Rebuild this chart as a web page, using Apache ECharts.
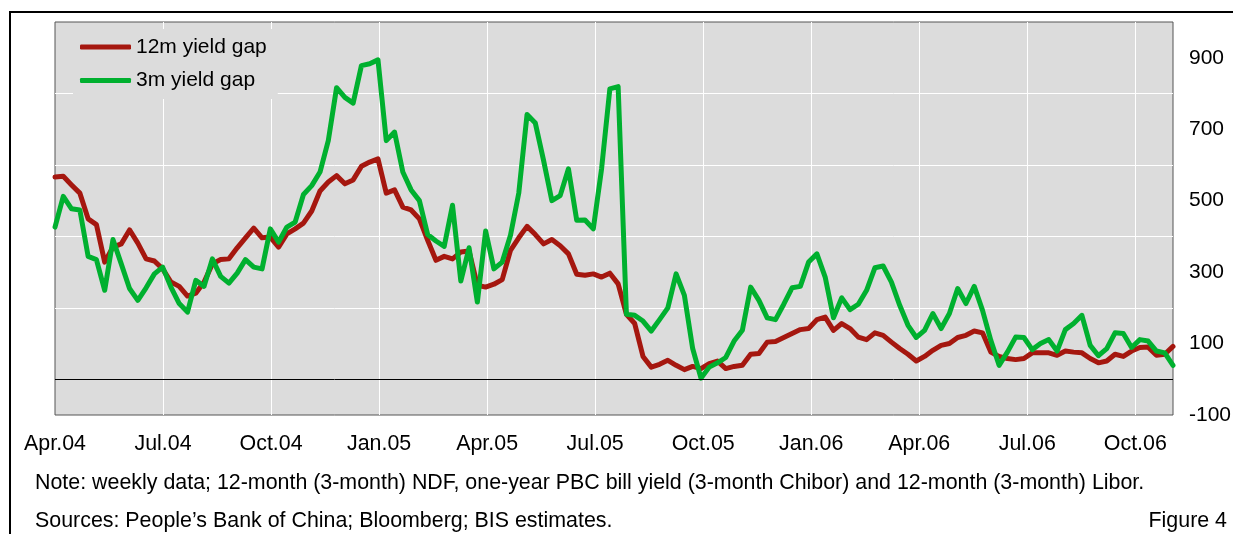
<!DOCTYPE html>
<html>
<head>
<meta charset="utf-8">
<script src="https://cdn.jsdelivr.net/npm/echarts@6/dist/echarts.min.js"></script>
<style>
    html, body { margin: 0; padding: 0; background: #fff; }
    #chart { position: absolute; left: 0; top: 0; width: 1233px; height: 534px; }
    #frame {
        position: absolute; left: 9px; top: 11px; right: 0; bottom: 0;
        border-top: 2px solid #000; border-left: 2px solid #000;
        pointer-events: none;
    }
</style>
</head>
<body>
<div id="chart"></div>
<div id="frame"></div>
<script>
// weekly data, first point = start of Apr.04
const quarterLabels = ['Apr.04', 'Jul.04', 'Oct.04', 'Jan.05', 'Apr.05', 'Jul.05',
    'Oct.05', 'Jan.06', 'Apr.06', 'Jul.06', 'Oct.06']
const weeksPerQuarter = 13.045

const gap12m = [
    566, 568, 544, 521, 449, 433, 328, 370, 379, 418,
    381, 337, 331, 309, 272, 260, 233, 241, 272, 323,
    335, 337, 368, 396, 423, 396, 398, 370, 407, 421,
    437, 471, 527, 552, 570, 547, 558, 596, 608, 617,
    521, 530, 482, 474, 449, 389, 333, 344, 337, 356,
    359, 263, 258, 266, 279, 361, 396, 428, 405, 379,
    391, 374, 351, 294, 291, 295, 286, 297, 267, 182,
    156, 64, 34, 42, 53, 39, 27, 36, 30, 44,
    51, 30, 36, 39, 70, 72, 104, 106, 117, 128,
    139, 142, 167, 174, 137, 156, 142, 118, 111, 130,
    123, 104, 86, 70, 51, 64, 81, 95, 100, 117,
    123, 135, 130, 76, 64, 58, 55, 58, 74, 74,
    74, 67, 79, 76, 74, 58, 46, 51, 70, 64,
    79, 89, 90, 67, 70, 92
]

const gap3m = [
    426, 512, 477, 474, 344, 335, 249, 391, 323, 254,
    221, 256, 295, 314, 258, 212, 188, 277, 260, 337,
    288, 269, 297, 335, 314, 309, 421, 384, 426, 440,
    517, 542, 580, 668, 816, 789, 773, 878, 883, 894,
    668, 692, 580, 530, 500, 405, 387, 372, 487, 275,
    368, 216, 415, 309, 328, 403, 521, 741, 717, 612,
    500, 514, 589, 445, 446, 421, 589, 813, 819, 182,
    179, 163, 135, 167, 200, 295, 235, 86, 3, 34,
    46, 61, 107, 137, 258, 221, 172, 167, 210, 256,
    260, 328, 351, 286, 172, 228, 195, 210, 249, 312,
    317, 272, 207, 151, 117, 137, 184, 142, 184, 254,
    212, 260, 193, 109, 39, 76, 118, 117, 83, 100,
    111, 79, 139, 156, 179, 95, 66, 86, 130, 128,
    89, 111, 107, 79, 74, 39
]

const toPoints = arr => arr.map((v, i) => [i, v])

const chart = echarts.init(document.getElementById('chart'))

const noteStyle = { fontSize: 21.4, fontWeight: 'normal', color: '#000' }

chart.setOption({
    animation: false,
    textStyle: { fontFamily: 'Liberation Sans, Arial, sans-serif', color: '#000' },
    title: [
        {
            text: 'Note: weekly data; 12-month (3-month) NDF, one-year PBC bill yield (3-month Chibor) and 12-month (3-month) Libor.',
            left: 35, top: 473, padding: 0,
            textStyle: noteStyle
        },
        {
            text: 'Sources: People\u2019s Bank of China; Bloomberg; BIS estimates.',
            left: 35, top: 511, padding: 0,
            textStyle: noteStyle
        },
        {
            text: 'Figure 4',
            right: 6, top: 511, padding: 0,
            textStyle: noteStyle
        }
    ],
    legend: {
        left: 73, top: 29,
        orient: 'vertical',
        icon: 'roundRect',
        itemWidth: 51, itemHeight: 5, itemGap: 12.6,
        padding: [7.5, 11, 8, 7],
        backgroundColor: '#dcdcdc',
        textStyle: { fontSize: 21, lineHeight: 20, color: '#000' },
        data: ['12m yield gap', '3m yield gap']
    },
    grid: {
        left: 55, right: 60, top: 22, bottom: 119,
        outerBoundsMode: 'none',
        show: true,
        backgroundColor: '#dcdcdc',
        borderColor: '#555',
        borderWidth: 1
    },
    xAxis: {
        type: 'value',
        min: 0, max: gap12m.length - 1,
        interval: weeksPerQuarter,
        axisLine: { show: false },
        axisTick: { show: false },
        axisLabel: {
            fontSize: 21.4, color: '#000', margin: 19,
            formatter: v => {
                const q = v / weeksPerQuarter
                const k = Math.round(q)
                return Math.abs(q - k) < 0.01 ? (quarterLabels[k] || '') : ''
            }
        },
        splitLine: { show: true, showMinLine: false, showMaxLine: false, lineStyle: { color: '#fff', width: 1 } }
    },
    yAxis: {
        type: 'value',
        position: 'right',
        min: -100, max: 1000, interval: 100,
        axisLine: { show: false },
        axisTick: { show: false },
        axisLabel: {
            fontSize: 21, color: '#000', margin: 16,
            formatter: v => (Math.abs(v) % 200 === 100 ? String(v) : '')
        },
        splitLine: {
            show: true, showMinLine: false, showMaxLine: false,
            lineStyle: { color: ['#fff', 'rgba(0,0,0,0)'], width: 1 }
        }
    },
    series: [
        {
            name: '12m yield gap',
            type: 'line',
            data: toPoints(gap12m),
            symbol: 'none',
            color: '#a5170f',
            lineStyle: { width: 5, color: '#a5170f', cap: 'round', join: 'round' },
            markLine: {
                silent: true,
                symbol: 'none',
                label: { show: false },
                lineStyle: { color: '#000', width: 1, type: 'solid' },
                data: [{ yAxis: 0 }]
            }
        },
        {
            name: '3m yield gap',
            type: 'line',
            data: toPoints(gap3m),
            symbol: 'none',
            color: '#00b02f',
            lineStyle: { width: 5, color: '#00b02f', cap: 'round', join: 'round' }
        }
    ]
})
</script>
</body>
</html>
